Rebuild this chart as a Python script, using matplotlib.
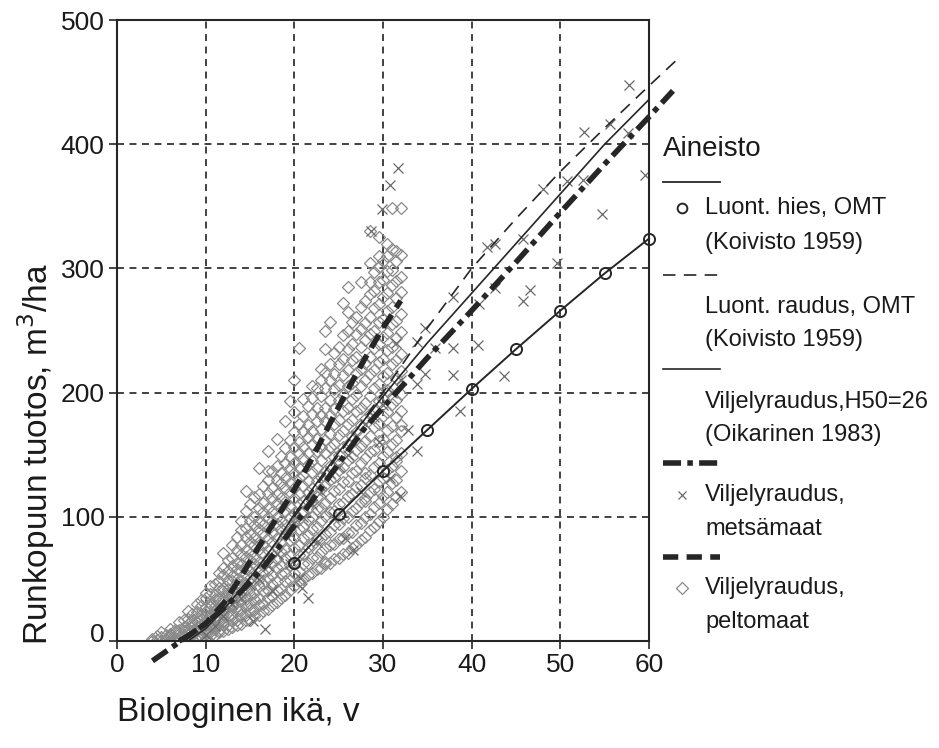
import numpy as np
import matplotlib.pyplot as plt
from matplotlib.lines import Line2D
import matplotlib.transforms as mtransforms

plt.rcParams['font.family'] = ['Liberation Sans', 'DejaVu Sans']
plt.rcParams['lines.scale_dashes'] = False

# -----------------------------
# Datos
# -----------------------------
hies_age = [20, 25, 30, 35, 40, 45, 50, 55, 60]
hies_vol = [63, 102, 137, 170, 203, 235, 266, 296, 324]

raudus_age = [20, 25, 30, 35, 40, 45, 50, 55, 60, 63]
raudus_vol = [100, 150, 200, 252, 300, 340, 378, 413, 447, 467]

viljely_age = [8, 10, 12, 14, 16, 18, 20, 25, 30, 35, 40, 45, 50, 55, 60]
viljely_vol = [0, 10, 25, 42, 60, 80, 102, 152, 197, 240, 280, 320, 360, 400, 436]

metsa_fit_age = [4, 6, 8, 10, 12, 14, 16, 18, 20, 22, 25, 28, 30, 32, 35, 40, 45, 50, 55, 60, 62.7]
metsa_fit_vol = [-16, -6, 4, 14, 26, 40, 55, 73, 93, 113, 143, 172, 188, 204, 228, 266, 305, 345, 384, 422, 443]

pelto_fit_age = [7, 8, 10, 12, 14, 16, 18, 20, 22, 24, 26, 28, 30, 32]
pelto_fit_vol = [0, 4, 14, 30, 52, 76, 99, 122, 147, 175, 202, 228, 252, 274]

# Viljelyraudus, metsamaat (x)
metsa_age = [57.7, 52.7, 55.6, 57.6, 59.6, 50.8, 52.5, 54.7, 48.0, 49.6, 41.7, 42.6,
             45.8, 37.9, 34.7, 33.8, 42.6, 46.6, 45.8, 40.7, 37.9, 37.9, 43.7, 34.7,
             33.8, 38.7, 35.9, 40.8, 32.8, 33.8, 31.9, 30.8, 25.7, 26.6, 20.6, 20.9,
             21.5, 16.7, 15.3, 31.7, 30.8, 29.9, 28.7,
             10, 11, 12, 13, 14, 15, 16, 17, 18, 19, 20, 21, 22, 23, 24, 25, 26, 27,
             28, 29, 30, 31, 32, 17.5, 22.5, 27.5, 29.5, 31.5, 24.5, 19.5]
metsa_vol = [448, 410, 416, 409, 375, 370, 371, 344, 364, 304, 317, 320,
             324, 277, 252, 241, 284, 283, 274, 238, 236, 214, 213, 215,
             207, 185, 236, 271, 170, 153, 117, 131, 83, 73, 51, 43,
             35, 10, 16, 381, 367, 348, 330,
             5, 12, 20, 30, 35, 45, 50, 60, 70, 85, 95, 100, 110, 120, 135, 140, 150, 165,
             175, 180, 190, 200, 210, 40, 80, 120, 160, 240, 100, 62]

# Viljelyraudus, peltomaat (vinoneliot): ika -> tuotokset
pelto_ages = [4.0, 4.5, 5.0, 5.5, 6.0, 6.5, 7.0, 7.5, 8.0, 8.5, 9.0, 9.5, 10.0, 10.5,
              11.0, 11.5, 12.0, 12.5, 13.0, 13.5, 14.0, 14.5, 15.0, 15.5, 16.0, 16.5,
              17.0, 17.5, 18.0, 18.5, 19.0, 19.5, 20.0, 20.5, 21.0, 21.5, 22.0, 22.5,
              23.0, 23.5, 24.0, 24.5, 25.0, 25.5, 26.0, 26.5, 27.0, 27.5, 28.0, 28.5,
              29.0, 29.5, 30.0, 30.5, 31.0, 31.5, 32.0]
pelto_vols = [
    [0, 2], [1, 4], [0, 3, 7], [1, 2, 5], [0, 4, 6, 10], [2, 7, 9],
    [0, 3, 6, 9, 15], [1, 5, 8, 11, 17],
    [0, 2, 7, 10, 14, 18, 24], [2, 5, 8, 12, 16, 22],
    [1, 4, 9, 11, 15, 19, 23, 30], [3, 7, 10, 13, 18, 21, 28, 33],
    [2, 6, 8, 13, 15, 20, 24, 27, 35, 39], [4, 7, 12, 14, 19, 21, 27, 30, 38, 44],
    [5, 10, 12, 18, 20, 25, 28, 34, 37, 46], [7, 9, 16, 18, 24, 26, 33, 35, 43, 48, 55],
    [8, 13, 16, 22, 25, 31, 34, 40, 43, 53, 59, 71],
    [10, 13, 20, 23, 29, 32, 39, 42, 49, 56, 65],
    [11, 17, 21, 28, 30, 37, 40, 48, 52, 60, 67, 77],
    [13, 17, 25, 28, 36, 39, 47, 50, 58, 63, 73, 84],
    [14, 21, 25, 33, 37, 45, 48, 56, 61, 70, 77, 89, 97],
    [17, 21, 29, 34, 42, 46, 54, 59, 68, 73, 84, 91, 105, 121],
    [17, 25, 30, 38, 43, 51, 56, 65, 70, 80, 86, 97, 110],
    [20, 25, 34, 39, 48, 53, 62, 67, 77, 83, 93, 100, 116],
    [21, 29, 35, 44, 50, 59, 64, 74, 80, 90, 96, 107, 118, 139],
    [24, 30, 40, 46, 55, 61, 71, 77, 87, 93, 104, 111, 125],
    [26, 35, 41, 51, 57, 67, 73, 83, 90, 100, 107, 119, 130, 137, 153],
    [29, 36, 46, 53, 63, 70, 80, 87, 97, 104, 115, 123, 137],
    [31, 41, 48, 59, 66, 76, 83, 94, 100, 111, 118, 130, 141, 163],
    [35, 42, 54, 61, 72, 79, 90, 97, 108, 115, 127, 135, 149],
    [37, 48, 55, 67, 74, 86, 93, 105, 112, 123, 131, 143, 155, 177],
    [41, 49, 61, 69, 81, 89, 100, 108, 120, 127, 139, 148, 162, 193],
    [44, 55, 63, 75, 83, 95, 103, 115, 123, 135, 143, 156, 168, 184, 210],
    [48, 56, 69, 77, 90, 98, 110, 118, 131, 139, 151, 160, 175, 236],
    [50, 62, 70, 83, 92, 104, 113, 125, 134, 147, 156, 169, 181, 195],
    [53, 63, 76, 85, 98, 107, 120, 129, 142, 151, 164, 174, 189],
    [55, 67, 77, 90, 100, 113, 123, 136, 145, 159, 169, 183, 196, 205],
    [58, 68, 82, 92, 106, 116, 129, 139, 153, 163, 177, 188, 204],
    [59, 72, 83, 97, 107, 122, 132, 146, 156, 171, 182, 197, 210, 219],
    [62, 64, 75, 86, 101, 111, 126, 137, 151, 162, 177, 188, 204, 216, 235, 250],
    [63, 77, 88, 104, 115, 130, 141, 156, 167, 182, 194, 210, 223, 257],
    [66, 78, 93, 105, 121, 132, 148, 159, 175, 187, 203, 215, 232],
    [67, 82, 94, 110, 122, 138, 150, 166, 178, 194, 206, 223, 237],
    [70, 83, 99, 111, 128, 140, 156, 169, 185, 198, 214, 227, 246, 272],
    [71, 87, 100, 117, 129, 146, 159, 175, 188, 205, 218, 235, 250, 265, 285],
    [75, 88, 105, 118, 135, 148, 165, 178, 195, 208, 226, 239, 257],
    [77, 93, 107, 124, 137, 154, 168, 185, 198, 216, 229, 247, 261],
    [81, 95, 112, 126, 143, 157, 174, 188, 205, 219, 237, 251, 269, 289],
    [84, 100, 113, 115, 131, 135, 147, 161, 179, 192, 210, 224, 242, 256, 274],
    [89, 102, 120, 134, 152, 165, 183, 197, 215, 229, 247, 261, 279, 289, 304, 330],
    [92, 108, 122, 140, 154, 172, 186, 204, 218, 236, 250, 268, 282, 297],
    [97, 111, 121, 129, 143, 161, 175, 193, 207, 225, 239, 257, 271, 289, 301, 310, 325],
    [100, 117, 131, 149, 163, 181, 195, 213, 227, 245, 259, 277, 291, 306],
    [106, 120, 138, 152, 170, 184, 202, 216, 234, 248, 266, 280, 298, 310, 320],
    [110, 127, 141, 159, 173, 191, 205, 223, 237, 255, 269, 287, 299, 316, 349],
    [116, 130, 145, 148, 162, 180, 194, 212, 226, 244, 258, 276, 290, 306, 314],
    [120, 137, 151, 169, 174, 185, 199, 217, 231, 249, 263, 281, 293, 311, 349],
]

x_ticks = [0, 10, 20, 30, 40, 50, 60]
y_ticks = [0, 100, 200, 300, 400, 500]

# -----------------------------
# Figura
# -----------------------------
W, H = 939, 748
fig = plt.figure(figsize=(W / 100, H / 100), dpi=100)


def px(x, y):
    return x / W, 1 - y / H


ax = fig.add_axes([117 / W, 1 - 641 / H, (649 - 117) / W, (641 - 20) / H])

dark = '#262626'

pelto_x = [a for a, vs in zip(pelto_ages, pelto_vols) for _ in vs]
pelto_y = [v for vs in pelto_vols for v in vs]
ax.plot(pelto_x, pelto_y, linestyle='none', marker='D', markersize=6.3,
        markerfacecolor='none', markeredgecolor='#8a8a8a', markeredgewidth=0.9, zorder=2)
ax.plot(metsa_age, metsa_vol, linestyle='none', marker='x', markersize=7,
        color='#6a6a6a', markeredgewidth=0.9, zorder=2)

ax.plot(hies_age, hies_vol, color=dark, lw=1.4, marker='o', markersize=8,
        markerfacecolor='none', markeredgewidth=1.4, zorder=4, clip_on=False)
ax.plot(raudus_age, raudus_vol, color=dark, lw=1.2, dashes=(9, 6), zorder=4, clip_on=False)
ax.plot(viljely_age, viljely_vol, color=dark, lw=1.2, zorder=4, clip_on=False)
ax.plot(metsa_fit_age, metsa_fit_vol, color=dark, lw=4, dashes=(13, 4.5, 4, 4.5),
        zorder=5, clip_on=False)
ax.plot(pelto_fit_age, pelto_fit_vol, color=dark, lw=4, dashes=(11, 6), zorder=5, clip_on=False)

ax.set_xlim(0, 60)
ax.set_ylim(0, 500)
ax.set_xticks(x_ticks)
ax.set_yticks(y_ticks)
ax.tick_params(labelsize=19, length=6, width=1.2, color=dark, labelcolor='#1a1a1a', pad=3)
ax.grid(True, color='#333333', lw=1.3, linestyle=(0, (5, 4)))
ax.set_axisbelow(True)
for s in ax.spines.values():
    s.set_color(dark)
    s.set_linewidth(1.5)

# "0" hieman ylempana kuten alkuperaisessa
lab0 = ax.get_yticklabels()[0]
lab0.set_transform(lab0.get_transform() + mtransforms.ScaledTranslation(0, 9 / 100, fig.dpi_scale_trans))

fig.text(*px(117, 713), 'Biologinen ikä, v', fontsize=24, ha='left', va='center', color='#1a1a1a')
fig.text(*px(36, 645), 'Runkopuun tuotos, m$^3$/ha', fontsize=24, rotation=90,
         ha='center', va='bottom', color='#1a1a1a')

# -----------------------------
# Selite
# -----------------------------
fig.text(*px(663, 149), 'Aineisto', fontsize=20, ha='left', va='center', color='#1a1a1a')


def sample(y, **kw):
    x0, y0 = px(663, y)
    x1, _ = px(720, y)
    fig.add_artist(Line2D([x0, x1], [y0, y0], transform=fig.transFigure, color=dark, **kw))


def entry(y, txt):
    fig.text(*px(705, y), txt, fontsize=17, ha='left', va='center', color='#1a1a1a')


sample(182, lw=1.3)
fig.add_artist(Line2D([px(682, 208)[0]], [px(682, 208)[1]], transform=fig.transFigure,
                      marker='o', markersize=7, markerfacecolor='none', color=dark, mew=1.4))
entry(208, 'Luont. hies, OMT')
entry(243, '(Koivisto 1959)')
sample(275, lw=1.2, dashes=(9, 6))
entry(307, 'Luont. raudus, OMT')
entry(340, '(Koivisto 1959)')
sample(369, lw=1.2)
entry(402, 'Viljelyraudus,H50=26')
entry(435, '(Oikarinen 1983)')
sample(463, lw=4, dashes=(13, 4.5, 4, 4.5))
fig.add_artist(Line2D([px(682, 495)[0]], [px(682, 495)[1]], transform=fig.transFigure,
                      marker='x', markersize=6, color='#6a6a6a', mew=0.9))
entry(495, 'Viljelyraudus,')
entry(529, 'metsämaat')
sample(557, lw=4, dashes=(11, 6))
fig.add_artist(Line2D([px(682, 588)[0]], [px(682, 588)[1]], transform=fig.transFigure,
                      marker='D', markersize=6, markerfacecolor='none',
                      markeredgecolor='#8a8a8a', mew=0.9))
entry(588, 'Viljelyraudus,')
entry(622, 'peltomaat')

fig.savefig('out.png', dpi=100)
